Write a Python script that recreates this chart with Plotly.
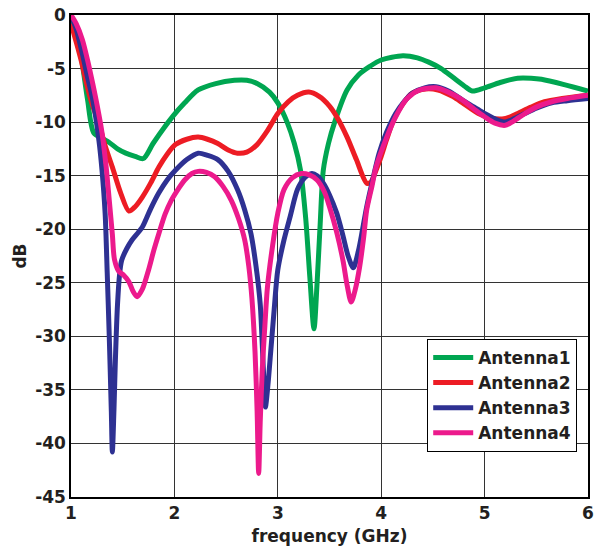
import plotly.graph_objects as go

# ---- data ----
f1 = [1.0, 1.05, 1.10, 1.16, 1.22, 1.30, 1.37, 1.45, 1.53, 1.62, 1.70, 1.80, 1.99, 2.10, 2.23, 2.40, 2.58, 2.70, 2.80, 2.92, 3.0, 3.09, 3.16, 3.22, 3.27, 3.31, 3.35, 3.38, 3.41, 3.44, 3.49, 3.55, 3.67, 3.78, 3.89, 4.0, 4.21, 4.35, 4.46, 4.58, 4.69, 4.80, 4.88, 5.0, 5.15, 5.32, 5.45, 5.55, 5.77, 6.0]
a1 = [0.0, -1.8, -4.0, -7.9, -11.0, -11.5, -11.9, -12.5, -12.9, -13.2, -13.4, -11.9, -9.4, -8.2, -7.0, -6.4, -6.1, -6.1, -6.4, -7.2, -8.2, -10.0, -12.0, -14.5, -19.0, -24.5, -29.3, -25.0, -19.5, -14.5, -12.0, -10.0, -7.0, -5.6, -4.8, -4.2, -3.8, -4.0, -4.4, -5.0, -5.8, -6.6, -7.1, -6.8, -6.3, -5.9, -5.9, -6.0, -6.5, -7.1]

f2 = [1.0, 1.05, 1.10, 1.15, 1.21, 1.27, 1.33, 1.40, 1.48, 1.56, 1.62, 1.69, 1.77, 1.85, 1.93, 2.01, 2.12, 2.23, 2.32, 2.42, 2.52, 2.61, 2.70, 2.80, 2.90, 3.0, 3.10, 3.19, 3.30, 3.40, 3.50, 3.57, 3.67, 3.76, 3.86, 3.90, 3.95, 4.0, 4.05, 4.12, 4.21, 4.30, 4.43, 4.55, 4.69, 4.80, 4.94, 5.05, 5.17, 5.25, 5.32, 5.45, 5.58, 5.75, 6.0]
a2 = [-0.8, -2.5, -4.3, -6.4, -8.5, -10.1, -12.2, -14.2, -16.6, -18.3, -17.9, -17.0, -15.7, -14.2, -13.0, -12.1, -11.6, -11.4, -11.6, -12.0, -12.6, -12.9, -12.8, -12.1, -10.8, -9.2, -8.1, -7.5, -7.2, -7.6, -8.5, -9.5, -11.4, -13.5, -15.7, -15.6, -14.5, -13.2, -11.7, -9.8, -8.3, -7.3, -6.9, -7.0, -7.6, -8.3, -9.2, -9.6, -9.7, -9.5, -9.2, -8.6, -8.1, -7.8, -7.5]

f3 = [1.0, 1.05, 1.10, 1.16, 1.21, 1.27, 1.30, 1.33, 1.35, 1.37, 1.39, 1.40, 1.415, 1.43, 1.45, 1.47, 1.49, 1.54, 1.59, 1.65, 1.69, 1.77, 1.85, 1.93, 2.01, 2.12, 2.23, 2.32, 2.42, 2.52, 2.61, 2.68, 2.74, 2.79, 2.83, 2.86, 2.88, 2.905, 2.93, 2.965, 3.0, 3.06, 3.12, 3.19, 3.26, 3.33, 3.38, 3.44, 3.50, 3.57, 3.63, 3.68, 3.73, 3.78, 3.82, 3.86, 3.92, 3.98, 4.05, 4.14, 4.22, 4.30, 4.42, 4.53, 4.65, 4.78, 4.90, 5.0, 5.10, 5.20, 5.28, 5.39, 5.50, 5.65, 5.80, 6.0]
a3 = [0.0, -1.3, -3.2, -5.8, -7.9, -11.7, -14.5, -18.5, -24.0, -30.0, -37.0, -40.8, -37.0, -32.0, -27.0, -24.2, -22.9, -21.8, -21.0, -20.3, -19.8, -18.1, -16.6, -15.4, -14.5, -13.5, -12.9, -13.1, -13.5, -14.6, -16.3, -18.2, -20.4, -23.5, -27.0, -33.0, -36.6, -34.5, -31.6, -27.5, -23.8, -21.0, -18.8, -16.3, -15.2, -14.8, -15.0, -15.7, -16.8, -18.5, -20.6, -22.5, -23.6, -22.0, -20.0, -17.9, -15.3, -12.9, -11.0, -9.2, -8.1, -7.3, -6.8, -6.7, -7.1, -7.9, -8.6, -9.2, -9.7, -10.0, -9.7, -9.2, -8.7, -8.2, -8.0, -7.8]

f4 = [1.0, 1.05, 1.11, 1.16, 1.21, 1.26, 1.30, 1.34, 1.37, 1.40, 1.42, 1.46, 1.51, 1.56, 1.60, 1.64, 1.69, 1.75, 1.80, 1.85, 1.91, 1.97, 2.04, 2.10, 2.17, 2.23, 2.31, 2.39, 2.47, 2.55, 2.62, 2.68, 2.72, 2.75, 2.78, 2.80, 2.815, 2.83, 2.85, 2.875, 2.90, 2.95, 3.0, 3.06, 3.14, 3.23, 3.30, 3.38, 3.45, 3.50, 3.57, 3.63, 3.67, 3.71, 3.75, 3.79, 3.83, 3.86, 3.91, 3.95, 4.05, 4.14, 4.25, 4.37, 4.53, 4.65, 4.78, 4.90, 5.0, 5.10, 5.20, 5.28, 5.39, 5.50, 5.65, 5.80, 6.0]
a4 = [0.0, -0.8, -2.3, -4.2, -6.4, -8.8, -11.0, -14.2, -17.3, -20.5, -22.8, -23.9, -24.3, -24.9, -25.8, -26.3, -25.6, -23.8, -22.0, -20.4, -18.6, -17.3, -16.2, -15.4, -14.8, -14.6, -14.7, -15.1, -16.0, -17.3, -19.0, -21.0, -23.5, -26.5, -31.5, -37.0, -42.8, -38.0, -33.1, -29.0, -25.4, -21.5, -18.5, -16.3, -15.2, -14.8, -14.9, -15.4, -16.5, -17.9, -20.3, -22.9, -25.2, -26.8, -25.6, -23.6, -20.8, -18.2, -16.0, -14.2, -11.5, -9.5, -7.8, -7.0, -6.8, -7.2, -7.9, -8.8, -9.5, -10.1, -10.3, -9.9, -9.2, -8.6, -8.1, -7.8, -7.5]

names = ["Antenna1", "Antenna2", "Antenna3", "Antenna4"]
colors = ["#00A651", "#ED1C24", "#2E3192", "#EC1A8C"]
xticks = [1, 2, 3, 4, 5, 6]
yticks = [0, -5, -10, -15, -20, -25, -30, -35, -40, -45]

FONT = "DejaVu Sans"
TXT = "#231F20"

fig = go.Figure()
for fx, ay, nm, c in zip([f1, f2, f3, f4], [a1, a2, a3, a4], names, colors):
    fig.add_trace(go.Scatter(x=fx, y=ay, mode="lines", name=nm,
                             line=dict(color=c, width=5, shape="spline", smoothing=0.8)))

axis_common = dict(showgrid=True, gridcolor="#333333", gridwidth=1,
                   showline=True, linecolor="black", linewidth=1.5, mirror=True,
                   zeroline=False, ticks="",
                   tickfont=dict(family=FONT, size=17, color=TXT, weight="bold"))

fig.update_xaxes(range=[1, 6], tickvals=xticks, ticktext=[str(v) for v in xticks],
                 title=dict(text="frequency (GHz)", standoff=8,
                            font=dict(family=FONT, size=17, color=TXT, weight="bold")),
                 **axis_common)
fig.update_yaxes(range=[-45, 0], tickvals=yticks, ticktext=[str(v) for v in yticks],
                 title=dict(text="dB", standoff=4,
                            font=dict(family=FONT, size=17, color=TXT, weight="bold")),
                 **axis_common)

fig.update_layout(
    width=599, height=552,
    margin=dict(l=71, r=5, t=15, b=55),
    paper_bgcolor="white", plot_bgcolor="white",
    showlegend=True,
    legend=dict(x=0.689, y=0.328, xanchor="left", yanchor="top",
                bgcolor="white", bordercolor="black", borderwidth=1,
                font=dict(family=FONT, size=17, color=TXT, weight="bold"),
                itemwidth=40, tracegroupgap=0),
)

fig.write_html("out.html")
